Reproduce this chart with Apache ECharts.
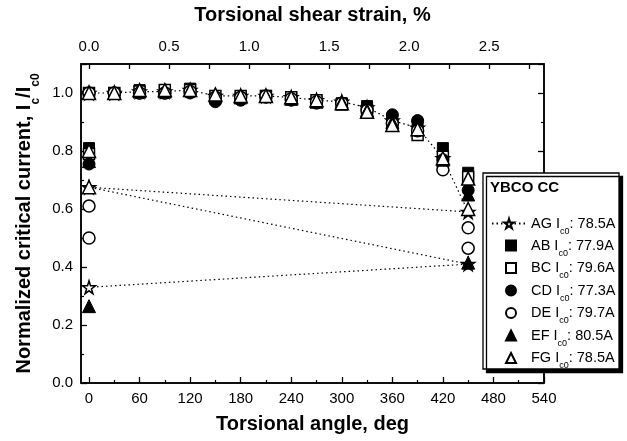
<!DOCTYPE html>
<html>
<head>
    <meta charset="utf-8">
    <title>YBCO CC torsion</title>
    <script src="https://cdn.jsdelivr.net/npm/echarts@6/dist/echarts.min.js"></script>
    <style>
        * { margin: 0; padding: 0 }
        #main { width: 627px; height: 441px; background: #fff; }
    </style>
</head>
<body>
    <div id="main"></div>
    <script type="text/javascript">
        // torsional angles during the twist (deg)
        var angles = [0, 30, 60, 90, 120, 150, 180, 210, 240, 270, 300, 330, 360, 390, 420, 450];
        var angleLabels = [0, 60, 120, 180, 240, 300, 360, 420, 480, 540];
        var strainLabels = [0.0, 0.5, 1.0, 1.5, 2.0, 2.5];
        var degPerStrain = 190; // deg per 1 % shear strain

        // Ic/Ic0 while twisting 0 -> 450 deg
        var AG = [1.0, 1.0, 1.005, 1.005, 1.01, 0.99, 0.99, 0.99, 0.985, 0.975, 0.97, 0.95, 0.905, 0.88, 0.775, 0.59];
        var AB = [1.0, 1.0, 1.01, 1.01, 1.015, 0.98, 0.985, 0.99, 0.98, 0.97, 0.965, 0.955, 0.91, 0.89, 0.81, 0.725];
        var BC = [1.0, 1.0, 1.005, 1.01, 1.01, 0.99, 0.99, 0.99, 0.985, 0.975, 0.96, 0.94, 0.89, 0.855, 0.78, 0.71];
        var CD = [1.0, 1.0, 1.0, 1.0, 1.0, 0.97, 0.975, 0.985, 0.975, 0.965, 0.965, 0.945, 0.925, 0.905, 0.77, 0.665];
        var DE = [1.0, 1.0, 1.0, 1.0, 1.005, 0.985, 0.985, 0.99, 0.98, 0.97, 0.965, 0.94, 0.895, 0.87, 0.735, 0.535];
        var EF = [1.0, 1.0, 1.005, 1.005, 1.01, 0.99, 0.985, 0.99, 0.98, 0.97, 0.97, 0.94, 0.9, 0.875, 0.77, 0.65];
        var FG = [1.0, 1.0, 1.01, 1.01, 1.01, 0.995, 0.99, 0.99, 0.985, 0.975, 0.965, 0.935, 0.89, 0.875, 0.775, 0.705];

        // points after release / re-twist
        var AG_backX = [0, 450, 0], AG_backY = [0.675, 0.41, 0.33];
        var AB_backX = [0], AB_backY = [0.81];
        var BC_backX = [0], BC_backY = [0.79];
        var CD_backX = [0], CD_backY = [0.755];
        var DE_backX = [0, 450, 0], DE_backY = [0.61, 0.465, 0.50];
        var EF_backX = [0, 450, 0], EF_backY = [0.765, 0.415, 0.265];
        var FG_backX = [0, 450, 0], FG_backY = [0.80, 0.60, 0.675];

        var names = ['AG', 'AB', 'BC', 'CD', 'DE', 'EF', 'FG'];
        var ic0 = ['78.5A', '77.9A', '79.6A', '77.3A', '79.7A', '80.5A', '78.5A'];

        var star = 'path://M50,0 L61,35 L98,35 L68,57 L79,91 L50,70 L21,91 L32,57 L2,35 L39,35 Z';

        function pts(ys, bx, by) {
            var out = [];
            for (var i = 0; i < angles.length; i++) out.push([angles[i], ys[i]]);
            for (var j = 0; j < bx.length; j++) out.push([bx[j], by[j]]);
            return out;
        }

        var black = '#000';
        var open = { color: '#fff', borderColor: black, borderWidth: 1.5, opacity: 1 };
        var filled = { color: black, borderColor: black, borderWidth: 1, opacity: 1 };

        var seriesDefs = [
            { name: 'AG', data: pts(AG, AG_backX, AG_backY), symbol: star, size: 13, style: open, line: true },
            { name: 'AB', data: pts(AB, AB_backX, AB_backY), symbol: 'rect', size: 11, style: filled },
            { name: 'BC', data: pts(BC, BC_backX, BC_backY), symbol: 'rect', size: 11, style: open },
            { name: 'CD', data: pts(CD, CD_backX, CD_backY), symbol: 'circle', size: 12, style: filled },
            { name: 'DE', data: pts(DE, DE_backX, DE_backY), symbol: 'circle', size: 12, style: open },
            { name: 'EF', data: pts(EF, EF_backX, EF_backY), symbol: 'triangle', size: 13, style: filled },
            { name: 'FG', data: pts(FG, FG_backX, FG_backY), symbol: 'triangle', size: 13, style: open }
        ];

        var series = seriesDefs.map(function (d, i) {
            var s = {
                name: d.name,
                type: d.line ? 'line' : 'scatter',
                data: d.data,
                symbol: d.symbol,
                symbolSize: d.size,
                itemStyle: d.style,
                z: 3 + i,
                animation: false
            };
            if (d.line) {
                s.showSymbol = true;
                s.lineStyle = { color: black, width: 1.2, type: [1.5, 3] };
            }
            return s;
        });

        // extra tick rows
        series.push({ type: 'line', xAxisIndex: 2, data: [], silent: true });
        series.push({ type: 'line', yAxisIndex: 1, data: [], silent: true });

        var xMin = -9.5, xMax = 540;
        var font = 'Liberation Sans, Arial, sans-serif';
        var titleStyle = { fontSize: 20, fontWeight: 'bold', fontFamily: font, color: black };
        var legendText = {
            fontSize: 14.5, color: black, fontFamily: font, padding: [0, 0, 0, 0],
            rich: { s: { fontSize: 9, verticalAlign: 'bottom', padding: [0, 0, -5, 0] } }
        };
        function legendFmt(n) {
            return n + ' I{s|c0}: ' + ic0[names.indexOf(n)];
        }

        var myChart = echarts.init(document.getElementById('main'));
        var option = {
            backgroundColor: '#fff',
            animation: false,
            textStyle: { fontFamily: font, color: black },
            grid: { left: 81, right: 83, top: 63, bottom: 58, show: true, borderColor: black, borderWidth: 1.5 },
            xAxis: [{
                type: 'value', position: 'bottom', min: xMin, max: xMax,
                name: 'Torsional angle, deg', nameLocation: 'middle', nameGap: 31,
                nameTextStyle: titleStyle,
                axisLine: { onZero: false, lineStyle: { color: black, width: 1.5 } },
                axisTick: { inside: true, length: 6, customValues: angleLabels, lineStyle: { color: black, width: 1.3 } },
                axisLabel: { customValues: angleLabels, fontSize: 15, color: black, margin: 8 },
                splitLine: { show: false }
            }, {
                type: 'value', position: 'top', gridIndex: 0,
                min: xMin / degPerStrain, max: xMax / degPerStrain,
                name: 'Torsional shear strain, %', nameLocation: 'middle', nameGap: 39,
                nameTextStyle: titleStyle,
                axisLine: { onZero: false, lineStyle: { color: black, width: 1.5 } },
                axisTick: { inside: true, length: 5, customValues: [0, 0.25, 0.5, 0.75, 1, 1.25, 1.5, 1.75, 2, 2.25, 2.5, 2.75], lineStyle: { color: black, width: 1.3 } },
                axisLabel: { customValues: strainLabels, fontSize: 15, color: black, margin: 10,
                    formatter: function (v) { return v.toFixed(1); } },
                splitLine: { show: false }
            }, {
                // minor ticks on the angle axis
                type: 'value', position: 'bottom', min: xMin, max: xMax,
                axisLine: { show: false },
                axisTick: { inside: true, length: 3, customValues: [30, 90, 150, 210, 270, 330, 390, 450, 510], lineStyle: { color: black, width: 1.2 } },
                axisLabel: { show: false },
                splitLine: { show: false }
            }],
            yAxis: [{
                type: 'value', min: 0, max: 1.1, interval: 0.2,
                name: 'Normalized critical current, I{s|c}/I{s|c0}', nameLocation: 'middle', nameGap: 37, nameRotate: 90,
                nameTextStyle: Object.assign({}, titleStyle, {
                    rich: { s: { fontSize: 12, fontWeight: 'bold', fontFamily: font, verticalAlign: 'bottom', padding: [0, 0, -7, 0] } } }),
                axisLine: { onZero: false, lineStyle: { color: black, width: 1.5 } },
                axisTick: { inside: true, length: 6, lineStyle: { color: black, width: 1.3 } },
                minorTick: { show: true, splitNumber: 2, length: 3, lineStyle: { color: black, width: 1.2 } },
                axisLabel: { fontSize: 15, color: black, margin: 8, showMaxLabel: false,
                    formatter: function (v) { return v > 1.05 ? '' : v.toFixed(1); } },
                splitLine: { show: false },
                minorSplitLine: { show: false }
            }, {
                type: 'value', position: 'right', min: 0, max: 1.1, interval: 0.2,
                axisLine: { show: true, onZero: false, lineStyle: { color: black, width: 1.5 } },
                axisTick: { inside: true, length: 6, lineStyle: { color: black, width: 1.3 } },
                minorTick: { show: true, splitNumber: 2, length: 3, lineStyle: { color: black, width: 1.2 } },
                axisLabel: { show: false },
                splitLine: { show: false }
            }],
            legend: [{
                orient: 'vertical', left: 486, top: 211,
                itemWidth: 34, itemHeight: 12, itemGap: 2,
                data: ['AG'],
                textStyle: legendText, formatter: legendFmt, z: 20
            }, {
                orient: 'vertical', left: 500, top: 233,
                itemWidth: 10, itemHeight: 10, itemGap: 2.5,
                data: names.slice(1),
                textStyle: Object.assign({}, legendText, { padding: [0, 0, 0, 10] }),
                formatter: legendFmt, z: 20
            }],
            graphic: [{
                type: 'rect', z: 15,
                shape: { x: 483, y: 173, width: 136, height: 196 },
                style: { fill: '#fff', stroke: black, lineWidth: 1.3,
                    shadowColor: black, shadowOffsetX: 3.5, shadowOffsetY: 3.5, shadowBlur: 0 }
            }, {
                type: 'text', z: 16, left: 490, top: 180,
                style: { text: 'YBCO CC', font: 'bold 15px ' + font, fill: black }
            }],
            series: series
        };
        myChart.setOption(option);
    </script>
</body>
</html>
